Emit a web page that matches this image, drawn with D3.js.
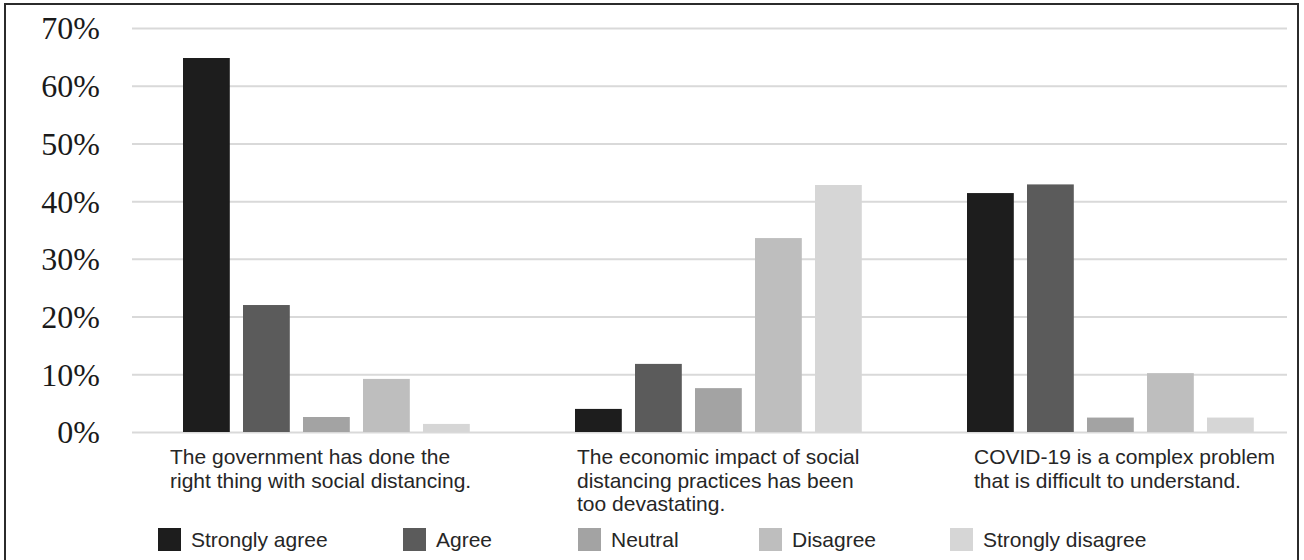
<!DOCTYPE html>
<html>
<head>
<meta charset="utf-8">
<script src="https://cdn.jsdelivr.net/npm/d3@7"></script>
<style>
    html, body { margin: 0; padding: 0; background: #fff; }
    svg { display: block; }
</style>
</head>
<body>
<div id="chart"></div>
<script>
/**
 * Survey statements (x categories), split into the lines they wrap to.
 * @type Array
 */
var STATEMENTS = [
    'The government has done the right thing with social distancing.',
    'The economic impact of social distancing practices has been too devastating.',
    'COVID-19 is a complex problem that is difficult to understand.'
];
var STATEMENT_LINES = [
    ['The government has done the', 'right thing with social distancing.'],
    ['The economic impact of social', 'distancing practices has been', 'too devastating.'],
    ['COVID-19 is a complex problem', 'that is difficult to understand.']
];
/**
 * Answer options (series).
 * @type Array
 */
var ANSWERS = ['Strongly agree', 'Agree', 'Neutral', 'Disagree', 'Strongly disagree'];
/**
 * Share of answers per statement, one array per answer option.
 */
var STRONGLY_AGREE    = [0.648, 0.040, 0.414];
var AGREE             = [0.220, 0.118, 0.429];
var NEUTRAL           = [0.026, 0.076, 0.025];
var DISAGREE          = [0.092, 0.336, 0.102];
var STRONGLY_DISAGREE = [0.014, 0.428, 0.025];
/**
 * Y axis tick values.
 */
var Y_TICKS = [0, 0.1, 0.2, 0.3, 0.4, 0.5, 0.6, 0.7];

var WIDTH  = 1304;
var HEIGHT = 560;
var COLORS = ['#1d1d1d', '#5b5b5b', '#a3a3a3', '#bebebe', '#d6d6d6'];
var SANS   = 'Arial, "Liberation Sans", Helvetica, sans-serif';
var SERIF  = '"Times New Roman", "Liberation Serif", serif';

var svg = d3.select('#chart')
    .append('svg')
    .attr('width', WIDTH)
    .attr('height', HEIGHT);

// outer frame (bottom edge falls off the picture)
svg.append('rect')
    .attr('x', 5).attr('y', 4)
    .attr('width', 1293).attr('height', 570)
    .attr('fill', 'none')
    .attr('stroke', '#2b2b2b')
    .attr('stroke-width', 2);

var series = [STRONGLY_AGREE, AGREE, NEUTRAL, DISAGREE, STRONGLY_DISAGREE];

var y = d3.scaleLinear()
    .domain([0, 0.7])
    .range([432, 28]);

var x0 = d3.scaleBand()
    .domain(STATEMENTS)
    .range([130, 1306])
    .paddingInner(0);

var x1 = d3.scaleBand()
    .domain(ANSWERS)
    .range([53, 339.8])
    .paddingInner(0.22)
    .paddingOuter(0);

drawGrid();
drawBars();
drawLabels();
drawLegend();

/**
 * Horizontal gridlines and the percent labels on the left.
 */
function drawGrid() {
    var axis = d3.axisLeft(y)
        .tickValues(Y_TICKS)
        .tickFormat(d3.format('.0%'))
        .tickSize(-(1287 - 132))
        .tickPadding(32);

    var g = svg.append('g')
        .attr('transform', 'translate(132,0)')
        .call(axis);

    g.select('.domain').remove();
    g.selectAll('.tick line')
        .attr('stroke', '#d9d9d9')
        .attr('stroke-width', 2);
    g.selectAll('.tick text')
        .attr('fill', '#1a1a1a')
        .attr('dy', '0.34em')
        .style('font-family', SERIF)
        .style('font-size', '32px');
}

/**
 * One group of five bars per statement.
 */
function drawBars() {
    var groups = svg.append('g')
        .selectAll('g')
        .data(STATEMENTS)
        .join('g')
        .attr('transform', function(d) { return 'translate(' + x0(d) + ',0)'; });

    groups.selectAll('rect')
        .data(function(d, i) {
            return ANSWERS.map(function(a, j) {
                return { answer: a, index: j, value: series[j][i] };
            });
        })
        .join('rect')
        .attr('x', function(d) { return x1(d.answer); })
        .attr('width', x1.bandwidth())
        .attr('y', function(d) { return y(d.value); })
        .attr('height', function(d) { return y(0) - y(d.value); })
        .attr('fill', function(d) { return COLORS[d.index]; });
}

/**
 * Wrapped statement text under each group.
 */
function drawLabels() {
    // left edge of each text block, relative to the group centre
    var shift = [-156, -141, -136];
    var g = svg.append('g')
        .style('font-family', SANS)
        .style('font-size', '21px')
        .attr('fill', '#262626');

    STATEMENTS.forEach(function(s, i) {
        var cx = x0(s) + x0.bandwidth() / 2;
        var t = g.append('text')
            .attr('x', cx + shift[i])
            .attr('y', 464);
        STATEMENT_LINES[i].forEach(function(line, k) {
            t.append('tspan')
                .attr('x', cx + shift[i])
                .attr('y', 464 + k * 23.5)
                .text(line);
        });
    });
}

/**
 * Legend row at the bottom.
 */
function drawLegend() {
    var xs = [158, 403, 578, 759, 950];
    var items = svg.append('g')
        .selectAll('g')
        .data(ANSWERS)
        .join('g')
        .attr('transform', function(d, i) { return 'translate(' + xs[i] + ',528)'; });

    items.append('rect')
        .attr('width', 23)
        .attr('height', 23)
        .attr('fill', function(d, i) { return COLORS[i]; });

    items.append('text')
        .attr('x', 33)
        .attr('y', 19)
        .attr('fill', '#262626')
        .style('font-family', SANS)
        .style('font-size', '21px')
        .text(function(d) { return d; });
}
</script>
</body>
</html>
